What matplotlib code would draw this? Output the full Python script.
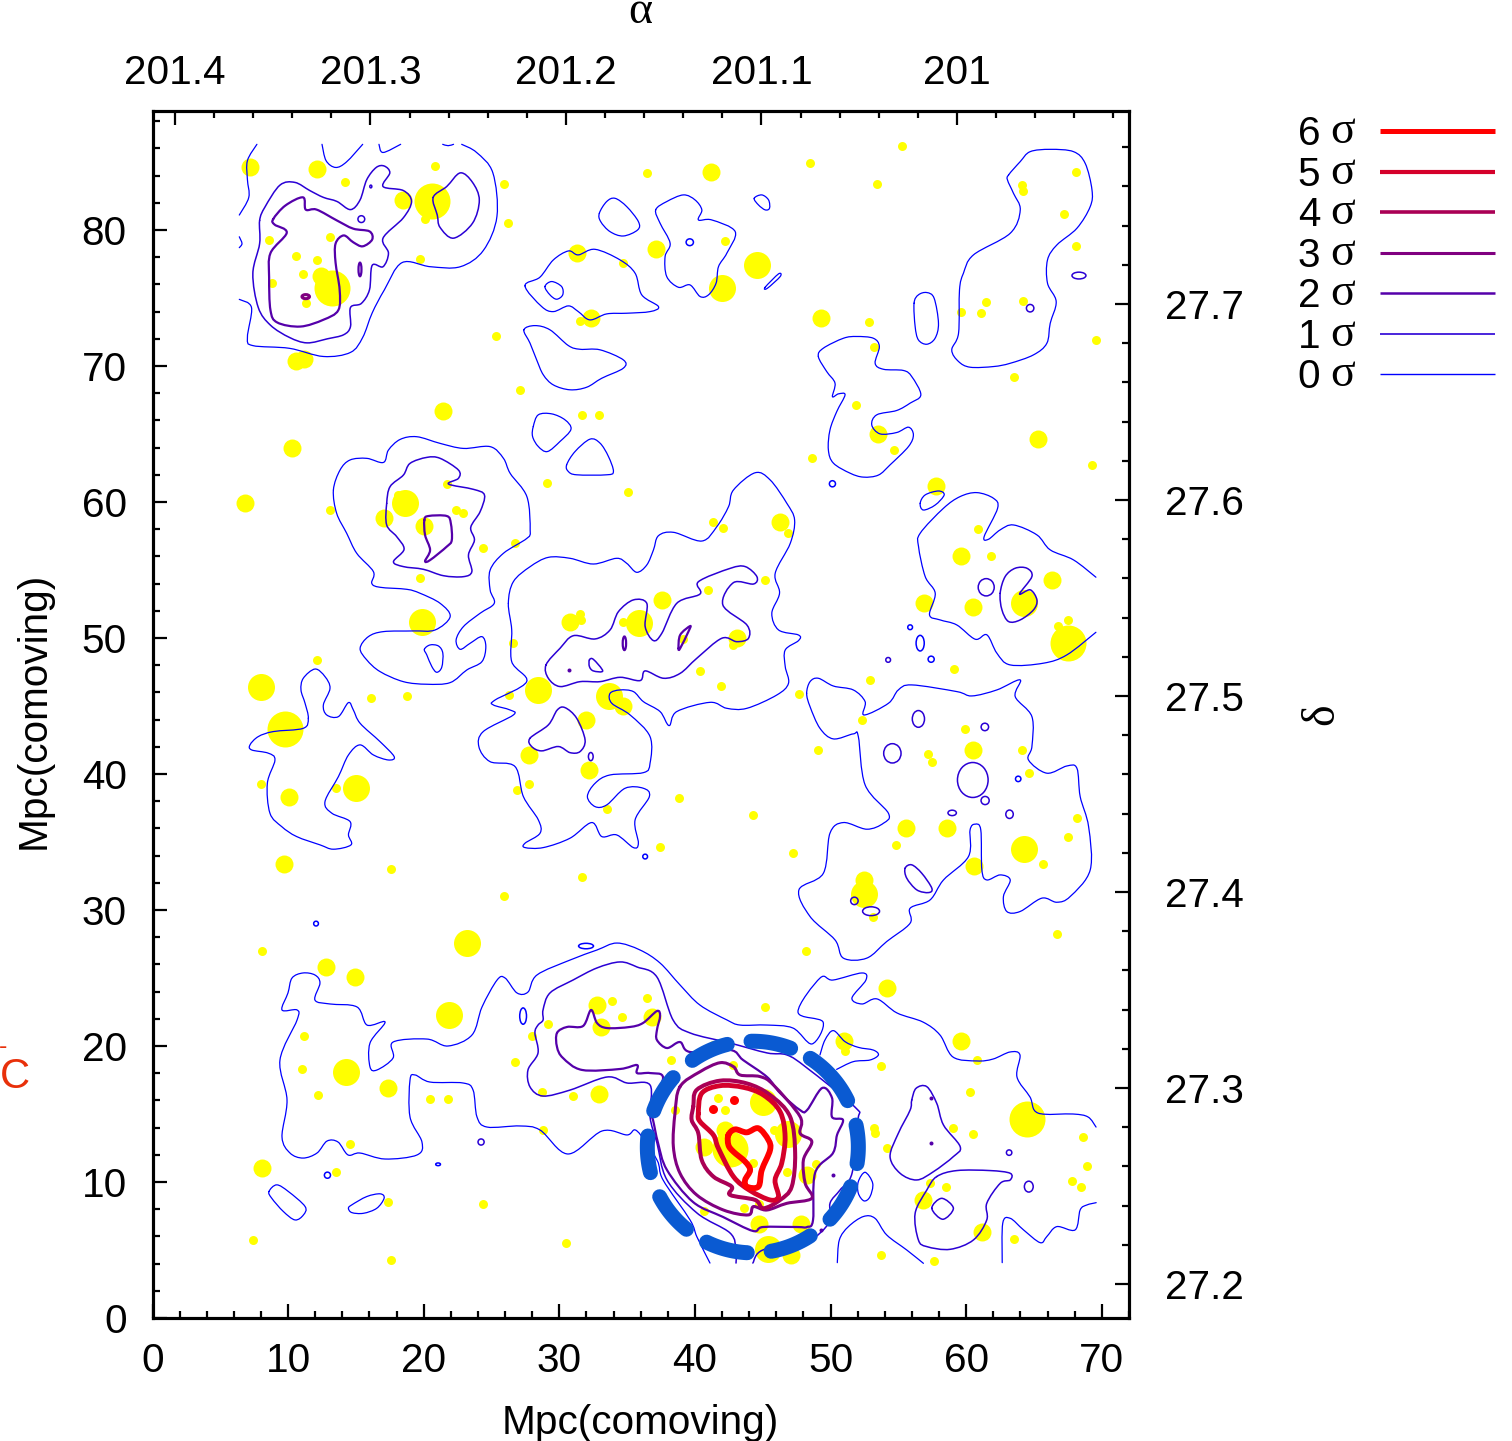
import numpy as np
import matplotlib
matplotlib.use("Agg")
import matplotlib.pyplot as plt
from matplotlib.path import Path
from matplotlib.patches import PathPatch, Ellipse
from matplotlib.lines import Line2D
from matplotlib.ticker import MultipleLocator

plt.rcParams['font.family'] = ['Liberation Sans', 'DejaVu Sans']
W, H = 1512, 1441

# ---------- galaxies (x, y in Mpc), one list per symbol size ----------
spots_small = [(20.8,84.7),(14.2,83.5),(25.9,83.4),(26.2,80.5),(20.1,80.8),(8.6,79.3),(13.1,79.5),(10.6,78.1),
 (12.1,77.8),(11.1,76.8),(8.8,76.1),(19.7,77.9),(11.3,74.6),(25.3,72.2),(34.7,77.6),(31.5,73.3),(42.2,79.2),
 (27.1,68.2),(31.7,66.4),(32.9,66.4),(55.3,86.2),(48.5,84.9),(53.4,83.4),(68.1,84.3),(64.1,83.3),(64.2,82.9),
 (67.2,81.2),(68.1,78.8),(59.6,74.0),(61.1,73.9),(61.5,74.7),(64.2,74.8),(69.6,71.9),(63.5,69.2),(52.8,73.2),
 (53.2,71.4),(51.9,67.1),(54.7,63.8),(48.6,63.2),(69.3,62.7),(36.5,84.2),(60.9,58),(61.8,56),(67.5,51.3),
 (66.8,50.9),(59.1,47.7),(52.9,46.9),(52.3,44),(47.7,45.9),(49.1,41.8),(59.9,43.3),(64.1,41.8),(64.6,40.1),
 (57.2,41.5),(57.5,40.9),(68.2,36.8),(67.5,35.4),(54.8,34.8),(47.2,34.2),(65.7,33.4),(53.1,29.5),(66.7,28.2),
 (48.2,27),(29.1,61.4),(35.1,60.7),(24.4,56.6),(26.7,57),(41.3,58.5),(42.1,58.1),(46.9,57.7),(45.2,54.3),
 (41,53.5),(34.7,51.2),(31.5,51.8),(31.6,51.3),(26.6,49.6),(42.8,49.5),(39.1,49.9),(40.4,47.6),(41.9,46.5),
 (26.3,45.8),(27.8,39.3),(26.9,38.8),(38.8,38.2),(33.5,37.4),(44.3,37),(37.4,34.6),(13.1,59.4),(18.1,60.5),
 (21.7,61.3),(22.4,59.4),(22.9,59.2),(19.7,54.4),(12.1,48.4),(16.1,45.6),(18.8,45.7),(8,39.3),(13.5,39),
 (17.6,33),(25.9,31),(31.7,32.4),(8.1,27),(11.2,20.7),(11,18.3),(12.2,16.4),(20.5,16.1),(21.8,16.1),(14.6,12.8),
 (13.5,10.7),(17.4,8.5),(24.4,8.4),(7.4,5.7),(17.6,4.3),(30.5,5.5),(33.9,23.3),(36.5,23.5),(34.6,22.1),(29.2,21.6),
 (28,20.7),(26.7,18.8),(28.7,16.6),(31,16.3),(28.8,13.8),(45.2,22.9),(51.1,19.6),(60.8,19.0),(53.7,18.5),(60.3,16.6),
 (53.2,14),(53.3,13.6),(59,14),(60.5,13.5),(54.2,12.5),(68.6,13.3),(68.9,11.2),(67.8,10.1),(68.5,9.6),(57.3,9.9),
 (58.5,9.6),(63.5,5.8),(53.7,4.6),(57.6,4.2),(38.2,19),(42.8,18.6),(38.5,15.3),(41.3,20.1),(41.7,16.2),(42.2,15.3),
 (45.8,13.8),(44.3,11.4),(48.9,11.3),(46.8,10.7),(44.7,8.4),(43.6,8.1),(40.7,7.9)]
spots_medium = [(7.2,84.6),(12.1,84.5),(18.5,82.2),(12.4,76.6),(10.6,70.4),(11.2,70.5),(31.3,78.3),(41.2,84.3),
 (37.1,78.6),(32.3,73.5),(49.3,73.5),(53.5,65),(65.3,64.6),(57.8,61.2),(59.6,56),(66.3,54.3),(56.9,52.6),(60.5,52.3),
 (60.5,41.8),(55.6,36),(58.6,36),(60.6,33.2),(52.5,32.2),(46.3,58.5),(37.6,52.8),(30.8,51.2),(43.1,50),(34.7,45),
 (32,44),(27.8,41.4),(32.2,40.3),(21.4,66.7),(10.3,64),(6.8,59.9),(17.1,58.8),(20,58.2),(10.1,38.3),(9.7,33.4),
 (12.8,25.8),(14.9,25.1),(17.4,16.9),(8.1,11),(32.8,23),(33.1,21.4),(36.8,22.1),(32.9,16.5),(54.2,24.3),(59.6,20.4),
 (51,20.4),(56.8,8.7),(61.2,6.3),(40.7,12.6),(42.2,13.8),(48.3,10.5),(44.7,6.9),(47.8,6.9),(47.1,4.6)]
spots_large = [(44.6,77.4),(42,75.7),(64.3,52.6),(64.3,34.5),(52.5,31.2),(35.9,51.1),(28.4,46.2),(33.7,45.7),
 (18.6,59.9),(19.9,51.2),(8,46.4),(15,39),(23.2,27.6),(21.9,22.3),(14.3,18.1),(45,15.9),(46.9,13.5),(45.4,5.1)]
spots_huge = [(20.6,82.1),(13.2,75.7),(67.5,49.6),(9.8,43.3),(64.5,14.6),(42.6,12.4)]
spot_diam_px = {'small': 9, 'medium': 18, 'large': 27, 'huge': 36}

# ---------- contours (x, y in Mpc) ----------
# 0 sigma, open
s0_open_a = [(7.7,86.3),(7.0,85.1),(7.0,83.7),(7.1,82.4),(6.4,81.1)]
s0_open_b = [(6.4,79.5),(6.6,79),(6.4,78.7)]
s0_open_c = [(6.4,74.9),(7.3,74.3),(7.0,72.1),(7.4,71.5),(10.1,71.3),(12.6,70.7),(14.6,71),(15.5,72.1),(16.2,73.9),
 (17.1,75.6),(18.4,77.6),(20.5,77.3),(22.7,77.3),(24.4,78.5),(25.4,81),(25.1,84.2),(23.9,85.7),(22.8,86.3)]
s0_open_d = [(22.2,86.3),(21.8,86.2),(21.4,86.3)]
s0_open_e = [(18.3,86.3),(17,85.7),(16.7,86.3)]
s0_open_f = [(15.5,86.3),(14.3,85),(13.5,84.6),(12.8,85.1),(12.5,86.3)]
s0_open_g = [(69.57,54.47),(67.92,55.74),(66.2,56.48),(65.22,57.58),(63.5,58.31),(62.51,57.95),(61.65,57.26),(61.33,57.46),
 (62.32,59.54),(62.02,60.27),(60.79,60.69),(59.56,60.4),(58.33,59.54),(56.61,57.7),(56.49,56.72),(56.98,54.52),(57.72,53.29),
 (57.3,51.7),(58.08,51.33),(59.31,50.96),(60.67,49.91),(61.53,50.23),(62.27,48.88),(63.25,48.02),(65.71,48.15),(67.43,48.76),(69.57,50.42)]
s0_open_h = [(69.58,14.04),(68.99,14.78),(67.88,15.0),(65.3,15.07),(64.71,16.25),(63.75,17.72),(63.97,19.34),(63.24,19.56),
 (61.98,19.04),(60.8,18.9),(59.03,19.19),(58.07,20.81),(56.82,21.76),(54.9,22.43),(53.43,23.46),(52.32,23.09),(51.58,23.53),
 (52.61,24.85),(52.32,25.37),(50.18,24.85),(49.23,25.0),(47.6,22.5),(49.45,21.76),(48.63,20.15),(47.23,21.32),(45.32,21.54),
 (43.33,21.54),(42.37,21.91),(40.37,23.01),(38.9,24.49),(37.43,26.1),(35.95,27.06),(34.25,27.57),(32.78,27.06),(30.79,26.32),
 (28.35,25.22),(27.69,23.97),(26.88,23.9),(26.0,25.0),(25.41,24.85),(24.3,22.87),(23.56,20.81),(21.79,20.0),(20.24,20.51),
 (17.74,20.29),(17.74,19.12),(16.56,18.24),(16.04,18.46),(16.04,20.22),(17.15,21.76),(15.82,21.54),(15.08,22.87),(13.09,23.09),
 (11.98,23.38),(12.35,24.63),(11.98,25.22),(11.1,25.37),(10.29,25.0),(9.99,23.9),(9.55,22.65),(10.66,22.65),(10.66,21.91),
 (9.4,18.97),(9.92,16.03),(9.55,13.31),(10.14,12.13),(11.1,11.76),(12.13,12.13),(12.87,13.01),(13.68,12.94),(14.42,11.99),
 (15.3,12.13),(17.15,11.69),(19.51,11.99),(19.87,12.94),(18.99,14.78),(18.99,17.5),(19.36,17.87),(20.46,17.35),(22.9,17.28),
 (23.64,16.76),(23.93,14.78),(24.67,14.04),(27.1,14.12),(28.58,13.82),(30.64,12.06),(33.15,13.75),(34.99,13.46),(35.73,13.75),
 (37.2,11.62),(37.65,10.15),(39.64,7.21),(40.15,5.96),(41.11,4.04)]
s0_open_i = [(49.22,19.34),(49.59,20.44),(50.21,21.13),(51.07,20.32),(52.05,19.9),(53.16,19.7),(53.53,19.34),(52.91,18.97),(51.68,18.85),(50.45,18.28)]
s0_open_j = [(50.5,4.07),(50.65,5.74),(51.32,6.72),(52.42,7.46),(53.28,7.33),(54.14,6.11),(55.62,5.0),(56.85,4.02)]
s0_open_k = [(62.66,4.07),(62.7,6.97),(63.25,7.33),(64.23,6.48),(65.46,5.54),(65.95,5.99),(66.69,6.72),(68.04,6.48),(68.41,7.95),(68.9,8.31),(69.59,8.48)]

# 0 sigma, closed
s0_a = [(32.95,81.23),(33.49,82.09),(34.11,82.33),(34.97,81.72),(35.83,80.62),(35.78,80.01),(34.72,79.56),(33.74,79.88),(33.05,80.62)]
s0_b = [(27.47,75.89),(28.57,76.53),(29.56,77.8),(30.67,78.46),(31.4,78.17),(32.63,78.58),(34.48,77.8),(35.59,76.82),(36.08,75.23),
 (37.31,74.37),(36.69,74.0),(34.97,73.88),(33.49,73.83),(32.26,73.39),(31.4,74.0),(30.67,74.42),(29.56,74.0),(28.7,74.37)]
s0_c = [(28.94,75.84),(29.44,76.21),(30.17,75.84),(30.25,75.23),(29.8,74.91),(29.31,75.23)]
s0_d = [(27.39,72.66),(28.2,72.97),(29.31,72.66),(30.67,71.5),(31.53,71.23),(33.0,71.19),(34.72,70.45),(34.72,69.84),(33.13,69.1),
 (32.02,68.44),(30.79,68.25),(29.56,68.61),(28.82,69.35),(28.33,70.45),(27.84,71.68)]
s0_e = [(37.11,81.48),(37.92,82.09),(39.15,82.58),(40.01,82.21),(40.51,81.48),(40.26,80.74),(41.24,80.74),(42.97,79.88),(42.35,78.29),
 (41.74,77.31),(41.56,76.09),(41.0,75.23),(40.38,75.11),(39.64,75.96),(38.78,75.79),(37.92,76.58),(37.8,78.05),(38.17,79.03),(37.43,80.5)]
s0_f = [(44.37,82.33),(44.93,82.58),(45.43,82.21),(45.5,81.6),(45.18,81.48),(44.69,81.84)]
s0_g = [(45.18,75.79),(46.16,76.77),(46.29,76.58),(45.35,75.72)]
s0_h = [(28.08,65.55),(28.45,66.41),(29.44,66.48),(30.42,66.04),(30.86,65.35),(30.05,64.45),(29.12,63.71),(28.45,64.08),(28.03,64.81)]
s0_i = [(30.54,62.73),(31.16,63.71),(32.26,64.62),(33.0,64.33),(33.62,63.35),(33.99,62.24),(33.49,62.0),(31.28,62.0),(30.67,62.24)]
s0_j = [(63.13,84.05),(63.99,85.03),(64.72,85.76),(66.2,85.93),(67.92,85.76),(68.78,84.9),(69.28,82.95),(69.15,81.72),(68.17,80.13),
 (66.69,78.9),(66.0,77.8),(66.0,76.09),(66.64,74.74),(66.2,73.14),(65.95,71.67),(64.97,70.82),(63.25,70.2),(62.02,69.96),(60.3,69.91),
 (59.44,70.33),(58.94,71.18),(59.44,72.41),(59.51,75.59),(59.8,76.82),(60.54,78.17),(63.25,79.76),(63.99,81.47),(63.49,82.7),(63.05,83.68)]
s0_k = [(56.16,74.62),(56.48,75.23),(57.1,75.4),(57.64,74.98),(57.96,73.14),(57.71,72.04),(57.1,71.6),(56.48,71.92),(56.24,72.9)]
s0_l = [(49.1,70.7),(49.47,71.31),(50.95,72.04),(51.93,72.17),(53.16,72.04),(53.6,71.43),(53.29,70.2),(53.9,69.76),(55.38,69.67),
 (55.99,69.22),(56.66,67.88),(55.87,67.27),(54.88,66.73),(53.41,66.41),(53.04,65.67),(53.65,65.01),(54.88,65.11),(55.75,65.5),(56.11,64.94),
 (55.75,64.08),(54.39,62.73),(53.53,61.98),(52.42,61.83),(51.44,62.12),(50.21,62.86),(49.84,63.84),(49.96,65.3),(50.46,66.65),(51.07,67.88),
 (50.58,67.95),(50.14,67.75),(50.33,68.74),(49.72,69.59)]
s0_m = [(13.34,60.88),(13.83,62.35),(14.57,63.09),(15.8,63.21),(17.03,62.91),(17.4,63.82),(18.26,64.6),(19.49,64.8),(21.21,64.31),
 (22.93,63.94),(24.9,64.07),(25.88,63.21),(26.38,62.1),(27.61,60.39),(27.85,57.94),(27.61,57.33),(25.88,56.23),(24.9,55.0),(24.9,53.53),
 (25.2,52.55),(24.16,51.82),(22.93,50.84),(22.39,49.86),(22.69,49.17),(23.42,49.61),(24.29,50.1),(24.58,49.37),(24.29,48.26),(23.18,47.65),
 (21.95,46.72),(20.23,46.6),(18.5,46.79),(16.78,47.53),(15.8,48.39),(15.31,49.24),(15.92,50.1),(17.03,50.47),(19.24,50.52),(20.84,50.59),
 (21.95,51.57),(21.21,52.55),(19.73,53.29),(18.75,53.58),(16.78,53.73),(16.17,54.02),(16.29,54.88),(15.06,56.23),(14.32,57.7),(13.58,59.17)]
s0_n = [(20.05,49.17),(20.47,49.49),(21.09,49.41),(21.41,48.88),(21.33,47.85),(20.96,47.48),(20.6,47.9),(20.23,48.75)]
s0_o = [(11.49,44.1),(11.25,45.2),(10.95,46.18),(11.12,47.04),(11.99,47.72),(12.72,47.16),(13.09,46.3),(12.6,45.08),(12.85,44.34),(13.71,44.22),
 (14.45,45.25),(14.81,44.71),(15.31,43.73),(16.78,42.38),(17.82,41.28),(17.4,41.03),(16.29,41.4),(15.31,42.14),(14.45,41.4),(13.71,39.81),
 (12.72,37.97),(13.22,37.12),(14.57,36.5),(14.45,35.52),(14.64,34.79),(13.34,34.47),(12.35,34.79),(10.63,35.4),(9.53,36.13),(8.66,37.12),
 (8.47,39.32),(9.03,41.03),(8.54,41.53),(7.31,41.77),(7.19,42.14),(7.8,42.75),(8.91,43.12),(11.12,43.36)]
s0_p = [(26.24,52.55),(26.61,54.14),(27.84,55.24),(29.19,55.93),(30.79,55.86),(32.51,55.44),(34.23,55.86),(34.97,55.49),(35.71,54.83),(36.45,55.37),
 (36.94,56.47),(37.31,57.52),(38.42,57.77),(40.51,57.13),(41.61,58.18),(42.48,59.66),(42.84,60.88),(44.44,62.15),(45.55,61.62),(46.78,59.9),
 (47.35,58.68),(47.03,56.96),(45.92,54.76),(46.24,53.3),(45.67,51.82),(46.17,50.59),(47.64,50.22),(47.64,49.81),(46.66,49.12),(46.66,47.9),
 (46.9,46.67),(46.04,45.81),(43.83,44.83),(42.35,44.83),(41.12,45.27),(38.66,44.59),(38.1,43.56),(37.43,44.59),(36.2,45.32),(35.46,46.06),
 (34.48,46.18),(33.74,45.93),(33.87,45.2),(35.22,44.34),(36.69,42.75),(36.69,40.79),(36.2,40.1),(33.74,39.93),(32.64,39.32),(32.07,38.34),
 (32.64,37.6),(33.5,37.73),(34.85,38.95),(36.2,38.95),(36.64,38.34),(35.59,36.63),(35.83,34.91),(35.46,34.59),(34.23,35.52),(33.13,35.4),
 (32.39,36.43),(30.79,35.28),(28.82,34.59),(27.47,34.59),(27.47,34.91),(28.58,35.65),(28.45,36.63),(27.35,38.34),(26.73,40.55),(24.89,40.91),
 (24.07,42.0),(24.39,43.12),(26.61,44.34),(26.36,44.71),(25.13,45.08),(25.26,45.44),(27.59,46.79),(26.49,48.26),(26.49,50.59)]
s0_q = [(48.24,45.93),(48.49,46.79),(49.1,47.04),(50.21,46.47),(51.68,46.18),(52.55,45.32),(52.47,44.34),(54.27,45.2),(55.0,46.18),(55.99,46.55),
 (59.31,46.06),(60.42,45.74),(62.26,46.18),(63.98,46.92),(63.62,45.69),(64.85,44.22),(64.85,42.02),(64.6,41.03),(65.95,40.06),(67.43,40.59),
 (68.17,40.42),(68.41,38.34),(69.03,36.13),(69.15,32.95),(67.67,30.99),(66.69,30.57),(65.58,30.87),(63.98,29.89),(63.0,29.89),(62.75,30.99),
 (63.25,32.21),(62.51,32.58),(61.52,32.21),(61.16,32.95),(61.08,35.89),(60.66,36.31),(60.29,35.89),(60.17,33.93),(58.33,32.21),(57.34,30.74),
 (55.87,30.13),(55.87,29.03),(54.14,27.68),(52.67,26.46),(50.95,26.46),(50.33,27.8),(48.49,29.52),(47.67,31.48),(49.47,32.7),(49.96,35.65),
 (50.95,36.43),(52.67,35.94),(53.9,36.38),(54.27,37.11),(52.55,39.2),(52.05,42.75),(51.68,42.95),(50.21,42.58),(49.22,43.36),(48.49,44.95)]
s0_r = [(8.59,9.3),(9.16,9.79),(10.02,9.3),(11.25,8.2),(11.13,7.58),(10.51,7.21),(9.65,7.83),(8.79,8.81)]
s0_s = [(14.45,8.07),(14.7,8.32),(15.8,8.93),(16.79,9.13),(17.08,8.81),(16.54,8.07),(15.56,7.7),(14.7,7.75)]
s0_t = [(56.61,59.9),(56.98,60.52),(57.96,60.81),(58.38,60.52),(57.72,59.78),(56.85,59.41)]
s0_u = [(52.55,10.71),(53.11,9.9),(52.91,8.92),(52.47,8.61),(52.05,9.17),(52.05,10.03)]

# 1 sigma
s1_a = [(7.9,80.7),(8.3,81.7),(9.4,83.3),(10.5,83.5),(11.6,82.9),(12.6,82.4),(13.6,82.1),(14.6,81.5),(15.3,82.2),(15.8,83.7),(16.5,84.6),(17.1,84.7),
 (17.5,84.2),(17,83.2),(18.5,82.9),(19.1,82.1),(18.5,80.9),(17,79.4),(17.4,78.3),(17,77.3),(16.2,77.4),(16,75.6),(15.4,74.6),(14.6,74.3),(14.6,72.9),
 (14.1,72.3),(12.9,72),(11.4,71.7),(10.1,72.1),(8.7,73),(7.8,74.3),(7.4,76.8),(7.9,79)]
s1_b = [(20.7,82.4),(21.7,83.2),(22.7,84.2),(23.6,83.5),(24.1,82.2),(23.6,80.5),(22.2,79.4),(21.2,80.2),(21,81.1)]
s1_c = [(17.27,59.9),(17.52,61.13),(18.5,61.98),(18.99,62.84),(20.23,63.28),(21.21,63.21),(22.56,62.35),(22.56,61.74),(21.83,61.32),(23.67,60.93),
 (24.48,60.51),(24.16,59.29),(23.47,58.14),(23.74,57.2),(23.3,56.1),(23.55,54.88),(22.93,54.51),(21.46,54.58),(19.98,55.05),(18.5,55.25),(17.77,55.61),
 (18.55,56.52),(18.01,57.45),(17.27,58.31)]
s1_d = [(29.02,48.02),(30.05,49.24),(31.04,50.17),(32.64,49.93),(33.74,50.59),(34.36,51.94),(35.46,52.8),(36.45,52.55),(36.33,50.84),(36.94,49.81),
 (37.56,50.35),(38.66,52.55),(40.38,53.24),(40.26,54.14),(42.6,55.12),(43.71,55.25),(44.57,54.51),(44.32,53.97),(42.84,54.07),(42.06,52.43),(43.83,50.96),
 (43.95,49.98),(43.09,49.73),(41.98,49.98),(40.14,48.51),(38.91,47.4),(37.68,47.04),(36.33,47.58),(35.96,46.87),(34.48,47.11),(33.0,46.79),(31.53,46.79),
 (30.05,46.43),(29.19,47.04)]
s1_e = [(32.22,48.39),(32.51,48.43),(33.2,47.58),(32.51,47.58),(32.22,47.9)]
s1_f = [(27.84,42.63),(29.19,43.61),(29.85,44.71),(30.42,44.88),(31.28,44.1),(31.9,42.5),(31.53,41.65),(30.79,41.57),(29.93,42.02),(28.7,41.7),(27.96,42.02)]
s1_g = [(62.51,53.29),(62.88,54.52),(63.62,55.13),(64.48,55.13),(64.85,54.52),(63.94,53.24),(64.73,53.54),(65.22,52.8),(64.97,52.07),(63.99,51.33),(63.13,51.21),(62.64,52.07)]
s1_h = [(55.5,33.07),(55.99,33.32),(56.73,32.7),(57.47,31.6),(57.22,31.28),(56.36,31.48),(55.62,32.34)]
s1_i = [(55.99,16.03),(56.31,16.89),(57.1,17.01),(57.83,15.79),(58.33,14.19),(59.56,12.6),(59.06,11.87),(57.59,10.76),(56.36,10.15),(55.13,10.64),(54.39,11.87),(55.0,13.58),(55.87,15.29)]
s1_j = [(57.83,10.4),(59.31,10.84),(61.77,10.84),(63.25,10.64),(63.25,10.15),(62.51,9.9),(61.52,8.43),(61.52,7.21),(60.54,5.74),(58.82,5.05),(57.1,5.25),(56.48,5.74),(56.24,7.7),(57.1,9.41)]
s1_k = [(57.47,8.07),(58.2,8.8),(59.06,8.07),(58.28,7.26)]
s1_open_a = [(44.27,4.04),(45.01,5.0),(48.12,5.59),(49.23,6.25),(49.97,7.21),(49.97,8.46),(50.7,9.41),(51.59,10.66),(52.03,14.56),(51.8,15.51),(48.27,18.38),
 (46.79,19.34),(45.32,19.49),(42.59,20.22),(39.64,20.96),(38.39,21.91),(37.2,25.07),(35.73,25.81),(34.48,26.18),(32.78,25.74),(31.01,24.85),(29.31,23.9),
 (28.8,22.65),(28.8,21.91),(28.43,21.54),(28.2,20.96),(28.43,19.49),(27.69,18.24),(27.84,16.99),(28.8,16.32),(30.79,16.76),(33.52,17.72),(34.99,17.28),
 (36.69,17.13),(36.69,14.78),(37.2,12.87),(37.94,10.15),(40.15,7.72),(42.59,6.25),(43.03,5.0),(43.03,4.04)]

# 2 sigma
s2_a = [(8.9,80.8),(9.8,81.8),(11.1,82.4),(11.3,81.5),(12.1,81.5),(13.6,80.7),(14.8,80.1),(16,79.9),(16.2,79.3),(15.5,78.8),(14.8,79.1),(14.1,79.6),(13.5,79),
 (13.5,77.6),(13.8,75.6),(13.7,74.1),(12.6,73.4),(10.9,72.9),(9.2,73.2),(8.7,74.1),(8.6,76.5),(8.7,78.3),(9.9,79.8),(9,80.4)]
s2_b = [(20.05,58.68),(20.35,58.97),(21.7,58.97),(22.0,58.43),(22.07,57.2),(21.7,56.72),(20.47,55.73),(20.1,55.66),(20.47,56.47),(20.1,57.57)]
s2_c = [(38.79,49.24),(38.91,50.22),(39.65,50.88),(39.52,50.47),(38.91,49.24)]
s2_d = [(29.83,20.96),(30.57,21.4),(31.75,21.47),(32.34,22.65),(32.78,21.69),(33.52,21.32),(35.21,21.4),(36.17,21.69),(37.2,22.57),(37.43,22.21),(37.2,21.18),
 (37.2,20.44),(37.94,19.85),(38.9,20.29),(39.64,19.56),(42.59,19.71),(43.55,18.97),(45.32,17.72),(46.28,16.54),(47.75,15.29),(48.27,15.29),(49.38,16.91),
 (50.11,16.18),(50.11,14.78),(50.92,14.56),(50.48,13.46),(50.18,12.13),(48.86,10.66),(48.71,7.21),(48.27,6.69),(47.53,6.69),(45.02,6.69),(44.28,6.4),
 (42.07,7.43),(39.86,8.53),(37.94,10.88),(37.28,12.87),(36.91,14.56),(36.69,15.29),(37.65,17.65),(36.69,18.01),(35.73,18.01),(35.73,18.6),(34.48,18.31),
 (31.67,18.24),(30.27,19.12),(29.83,19.93)]

# 3 - 6 sigma (the cluster core)
s3_a = [(38.9,17.01),(40.38,18.11),(41.85,18.77),(42.84,18.48),(43.33,17.87),(44.8,17.75),(45.79,17.13),(47.76,14.8),(47.76,13.58),(48.62,12.97),(48.0,11.62),
 (48.13,9.91),(48.62,8.8),(46.77,8.43),(45.3,7.94),(44.31,8.19),(43.94,7.58),(42.1,7.94),(40.13,9.05),(38.9,10.64),(38.41,12.6),(38.53,15.05)]
s4_a = [(39.88,15.54),(40.13,16.77),(41.85,17.45),(43.82,17.25),(45.54,16.4),(47.02,14.8),(47.39,12.11),(47.14,9.66),(46.28,8.68),(45.05,8.07),(44.44,8.68),
 (42.59,9.05),(42.71,9.66),(41.36,10.4),(40.5,11.62),(40.25,13.58),(39.76,14.56)]
s5_a = [(40.25,15.02),(40.5,16.52),(41.85,17.08),(43.57,16.96),(45.05,16.4),(46.28,15.17),(46.65,13.33),(46.4,11.38),(45.91,10.15),(46.16,8.92),(45.54,8.68),
 (44.07,9.37),(42.84,10.4),(41.73,12.48),(41.36,13.46),(40.38,14.44)]
s6_a = [(42.47,13.46),(42.96,13.87),(43.82,13.65),(44.68,13.95),(45.42,13.09),(45.54,12.35),(44.93,10.88),(44.68,9.66),(43.82,9.66),(43.7,10.15),(44.07,10.88),(43.7,11.5),(42.84,12.23),(42.47,12.72)]

closed_0 = [s0_a,s0_b,s0_c,s0_d,s0_e,s0_f,s0_g,s0_h,s0_i,s0_j,s0_k,s0_l,s0_m,s0_n,s0_o,s0_p,s0_q,s0_r,s0_s,s0_t,s0_u]
open_0 = [s0_open_a,s0_open_b,s0_open_c,s0_open_d,s0_open_e,s0_open_f,s0_open_g,s0_open_h,s0_open_i,s0_open_j,s0_open_k]
closed_1 = [s1_a,s1_b,s1_c,s1_d,s1_e,s1_f,s1_g,s1_h,s1_i,s1_j,s1_k]
open_1 = [s1_open_a]
closed_2 = [s2_a,s2_b,s2_c,s2_d]

# tiny closed contours: level, x, y, width, height (Mpc)
tiny_level = [1,2,3,1,0,2,1,1,1,0,1,1,1,0,1,1,1,1,1,1,1,1,0,0,1,0,0,0,0,1,0,0,0,1]
tiny_x = [15.4,15.3,11.3,16.1,39.62,34.8,32.32,68.32,64.72,50.14,56.48,60.49,61.38,63.84,61.4,58.97,63.2,51.76,52.99,64.62,63.17,61.48,55.87,56.61,54.25,57.42,36.33,27.33,31.97,24.23,21.06,12.9,12.06,54.56]
tiny_y = [80.8,77.1,75.1,83.2,79.1,49.61,41.28,76.65,74.25,61.34,44.05,39.56,43.46,39.64,38.05,37.14,37.04,30.67,29.91,9.66,12.16,53.73,50.79,49.62,48.39,48.44,33.93,22.2,27.35,12.94,11.3,10.5,29.0,41.52]
tiny_w = [.5,.22,.55,.15,.54,.25,.35,1.03,.55,.45,.9,2.26,.55,.4,.6,.62,.55,.55,1.25,.65,.4,1.18,.35,.6,.35,.45,.35,.5,1.1,.45,.35,.45,.35,1.28]
tiny_h = [.5,1.0,.3,.2,.5,1.0,.6,.5,.55,.45,1.23,2.57,.55,.4,.6,.4,.62,.55,.65,.8,.4,1.27,.35,1.15,.35,.45,.35,1.2,.4,.45,.2,.45,.35,1.42]

# isolated peaks
peak6_x, peak6_y = [41.3, 42.9], [15.4, 16.0]
peak2_x, peak2_y = [50.2, 49.3, 57.4, 57.4, 30.72], [10.5, 6.5, 16.2, 12.9, 47.65]

# dashed circle around the protocluster
circle_x, circle_y, circle_r = 44.27, 12.57, 7.78
dash_start = [91, 57, 12, -22, -57, -93, -129, -166, 160, 125]
dash_end = [69, 26, -9, -43, -80, -116, -152, -186, 139, 104]

levels = [6, 5, 4, 3, 2, 1, 0]
level_color = {0:'#0000ff',1:'#2a00d5',2:'#5500aa',3:'#800080',4:'#aa0055',5:'#d5002a',6:'#ff0000'}
level_lw = {0:0.9,1:1.1,2:1.6,3:2.2,4:2.9,5:3.5,6:4.2}
legend_lw = {0:1.0,1:1.2,2:1.8,3:2.2,4:2.6,5:3.0,6:3.6}
legend_row_y = [131, 172, 212, 253, 293, 334, 374]

x_ticks_top = [201.4, 201.3, 201.2, 201.1, 201.0]
top_labels = ['201.4', '201.3', '201.2', '201.1', '201']
right_ticks = [27.2, 27.3, 27.4, 27.5, 27.6, 27.7]

FS = 29.2
FS_GREEK = 33

def smooth_path(pts, closed):
    P = np.asarray(pts, float)
    n = len(P)
    verts = [P[0]]
    codes = [Path.MOVETO]
    last = n if closed else n - 1
    for i in range(last):
        p0 = P[(i - 1) % n] if (closed or i > 0) else P[i]
        p1 = P[i]
        p2 = P[(i + 1) % n]
        p3 = P[(i + 2) % n] if (closed or i + 2 < n) else p2
        verts += [p1 + (p2 - p0) / 6, p2 - (p3 - p1) / 6, p2]
        codes += [Path.CURVE4] * 3
    return Path(np.array(verts), codes)

fig = plt.figure(figsize=(W / 100, H / 100), dpi=100)
ax = fig.add_axes([152.5 / W, 1 - 1318 / H, 976.5 / W, 1207 / H])
ax.set_xlim(0, 72.01)
ax.set_ylim(0, 88.75)

for spots, key in [(spots_small,'small'),(spots_medium,'medium'),(spots_large,'large'),(spots_huge,'huge')]:
    a = np.array(spots)
    ax.scatter(a[:,0], a[:,1], s=(spot_diam_px[key]*0.72)**2, c='#ffff00', linewidths=0, zorder=2)

def draw(pts, level, closed):
    ax.add_patch(PathPatch(smooth_path(pts, closed), fc='none', ec=level_color[level], lw=level_lw[level],
                           zorder=3 + level * 0.1, joinstyle='round', capstyle='round'))

for c in closed_0: draw(c, 0, True)
for c in open_0: draw(c, 0, False)
for c in closed_1: draw(c, 1, True)
for c in open_1: draw(c, 1, False)
for c in closed_2: draw(c, 2, True)
draw(s3_a, 3, True); draw(s4_a, 4, True); draw(s5_a, 5, True); draw(s6_a, 6, True)

for lv, xc, yc, w, h in zip(tiny_level, tiny_x, tiny_y, tiny_w, tiny_h):
    ax.add_patch(Ellipse((xc, yc), w, h, fc='none', ec=level_color[lv], lw=level_lw[max(lv,1)], zorder=3.2))

ax.scatter(peak6_x, peak6_y, s=(9*0.72)**2, c=level_color[6], linewidths=0, zorder=4)
ax.scatter(peak2_x, peak2_y, s=(4*0.72)**2, c=level_color[2], linewidths=0, zorder=4)

for a0, a1 in zip(dash_start, dash_end):
    t = np.radians(np.linspace(a0, a1, 30))
    ax.plot(circle_x + circle_r*np.cos(t), circle_y + circle_r*np.sin(t), color='#0a5ad2', lw=10.8,
            solid_capstyle='round', zorder=6)

ax.xaxis.set_major_locator(MultipleLocator(10)); ax.xaxis.set_minor_locator(MultipleLocator(2))
ax.yaxis.set_major_locator(MultipleLocator(10)); ax.yaxis.set_minor_locator(MultipleLocator(2))
ax.tick_params(axis='x', which='major', direction='in', length=10, width=1.6, labelsize=FS, pad=17)
ax.tick_params(axis='y', which='major', direction='in', length=10, width=1.6, labelsize=FS, pad=18.5)
ax.tick_params(which='minor', direction='in', length=5, width=1.6)
for s in ax.spines.values():
    s.set_linewidth(2.2)
ax.set_xlabel('Mpc(comoving)', fontsize=FS, va='center')
ax.xaxis.set_label_coords(0.4995, -0.087)
ax.set_ylabel('Mpc(comoving)', fontsize=FS, va='center')
ax.yaxis.set_label_coords(-0.122, 0.5037)

axt = ax.twiny()
axt.set_xlim(201.4115, 200.912)
axt.set_xticks(x_ticks_top, top_labels)
axt.xaxis.set_minor_locator(MultipleLocator(0.02))
axt.tick_params(which='major', direction='in', length=10, width=1.6, labelsize=FS, pad=14)
axt.tick_params(which='minor', direction='in', length=5, width=1.6)
axt.set_xlabel('\u03b1', fontsize=FS_GREEK, family='Liberation Serif', va='baseline')
axt.xaxis.set_label_coords(0.4995, 1.0733)

axr = ax.twinx()
axr.set_ylim(27.1827, 27.7985)
axr.set_yticks(right_ticks, [str(v) for v in right_ticks])
axr.yaxis.set_minor_locator(MultipleLocator(0.02))
axr.tick_params(which='major', direction='in', length=10, width=1.6, labelsize=FS, pad=26)
axr.tick_params(which='minor', direction='in', length=5, width=1.6)
axr.set_ylabel('\u03b4', fontsize=FS_GREEK, family='Liberation Serif', va='center')
axr.yaxis.set_label_coords(1.1975, 0.5)
for a in (axt, axr):
    for s in a.spines.values():
        s.set_linewidth(2.2)

for lv, yy in zip(levels, legend_row_y):
    fy = 1 - yy / H
    fig.text(1309 / W, 1 - (yy + 3) / H, str(lv), fontsize=FS, ha='center', va='center')
    fig.text(1343 / W, 1 - (yy + 1) / H, '\u03c3', fontsize=FS_GREEK, family='Liberation Serif', ha='center', va='center')
    fig.add_artist(Line2D([1380 / W, 1495 / W], [fy, fy], color=level_color[lv], lw=legend_lw[lv], solid_capstyle='butt'))

fig.text(0 / W, 1 - 1077 / H, 'C', color='#e8300a', fontsize=30, ha='left', va='center')
fig.text(-1 / W, 1 - 1047 / H, '-', color='#e8300a', fontsize=18, ha='left', va='center')

fig.savefig('out.png', dpi=100, facecolor='white')
